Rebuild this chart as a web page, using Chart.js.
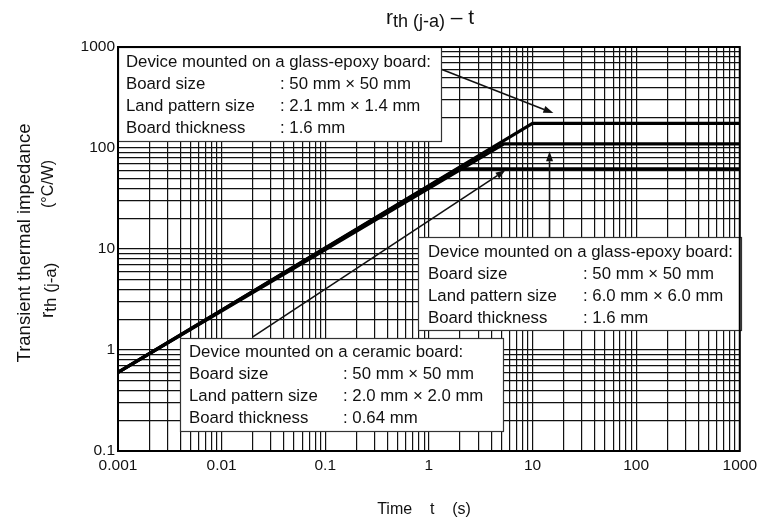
<!DOCTYPE html>
<html>
<head>
<meta charset="utf-8">
<script src="https://cdn.jsdelivr.net/npm/chart.js@4/dist/chart.umd.min.js"></script>
<style>
  html, body { margin: 0; padding: 0; background: #fff; }
  #wrap { width: 762px; height: 520px; position: relative; }
</style>
</head>
<body>
<div id="wrap"><canvas id="chart"></canvas></div>
<script>
// axis ticks
const xTickValues = [0.001, 0.01, 0.1, 1, 10, 100, 1000];
const xTickLabels = ['0.001', '0.01', '0.1', '1', '10', '100', '1000'];
const yTickValues = [0.1, 1, 10, 100, 1000];
const yTickLabels = ['0.1', '1', '10', '100', '1000'];

// curves: time t (s) / rth(j-a) (°C/W)
const glassSmallT = [0.001, 10, 1000];
const glassSmallR = [0.6, 175, 175];
const glassLargeT = [0.001, 5.3, 1000];
const glassLargeR = [0.6, 110, 110];
const ceramicT = [0.001, 1.9, 1000];
const ceramicR = [0.6, 62, 62];

// note boxes
const rowLabels = ['Board size', 'Land pattern size', 'Board thickness'];
const glassSmallNote = ['Device mounted on a glass-epoxy board:', ': 50 mm \u00d7 50 mm', ': 2.1 mm \u00d7 1.4 mm', ': 1.6 mm'];
const glassLargeNote = ['Device mounted on a glass-epoxy board:', ': 50 mm \u00d7 50 mm', ': 6.0 mm \u00d7 6.0 mm', ': 1.6 mm'];
const ceramicNote = ['Device mounted on a ceramic board:', ': 50 mm \u00d7 50 mm', ': 2.0 mm \u00d7 2.0 mm', ': 0.64 mm'];

const FONT = '"Liberation Sans", Arial, sans-serif';
const INK = '#111';

function toXY(ts, rs) {
  return ts.map((t, i) => ({ x: t, y: rs[i] }));
}

// 1..9 x 10^k grid between the first and last tick
function gridValues(decades) {
  const out = [];
  for (let i = 0; i < decades.length - 1; i++) {
    for (let m = 1; m <= 9; m++) out.push(Number((m * decades[i]).toPrecision(6)));
  }
  out.push(decades[decades.length - 1]);
  return out;
}

function labelFor(values, labels, v) {
  const i = values.findIndex(d => Math.abs(d - v) / d < 1e-6);
  return i >= 0 ? labels[i] : '';
}

// draw runs of text with different sizes along one baseline
function drawRuns(ctx, runs, x, y) {
  let cx = x;
  runs.forEach(r => {
    ctx.font = r.size + 'px ' + FONT;
    ctx.fillText(r.text, cx, y + (r.dy || 0));
    cx += ctx.measureText(r.text).width;
  });
}

function runsWidth(ctx, runs) {
  let w = 0;
  runs.forEach(r => { ctx.font = r.size + 'px ' + FONT; w += ctx.measureText(r.text).width; });
  return w;
}

const notes = [
  { lines: glassSmallNote, x: 118, y: 47, w: 323, h: 94, tx: 126, vx: 280, ty: 62, gap: 22 },
  { lines: glassLargeNote, x: 418, y: 237, w: 323, h: 93, tx: 428, vx: 583, ty: 252, gap: 22 },
  { lines: ceramicNote, x: 180, y: 338, w: 323, h: 93, tx: 189, vx: 343, ty: 352, gap: 22 }
];

// arrows in data coordinates (tail -> head)
const arrows = [
  { from: [1.3, 605], to: [15.9, 222] },
  { from: [14.6, 13], to: [14.6, 93] },
  { from: [0.02, 1.35], to: [5.5, 60.5] }
];

const notesPlugin = {
  id: 'notes',
  afterDatasetsDraw(chart) {
    const { ctx, chartArea: a, scales } = chart;
    ctx.save();

    // arrows
    ctx.strokeStyle = INK;
    ctx.fillStyle = INK;
    ctx.lineWidth = 1.6;
    arrows.forEach(ar => {
      const x1 = scales.x.getPixelForValue(ar.from[0]);
      const y1 = scales.y.getPixelForValue(ar.from[1]);
      const x2 = scales.x.getPixelForValue(ar.to[0]);
      const y2 = scales.y.getPixelForValue(ar.to[1]);
      const ang = Math.atan2(y2 - y1, x2 - x1);
      const len = 10, hw = 3.5;
      const bx = x2 - len * Math.cos(ang), by = y2 - len * Math.sin(ang);
      ctx.beginPath();
      ctx.moveTo(x1, y1);
      ctx.lineTo(bx, by);
      ctx.stroke();
      ctx.beginPath();
      ctx.moveTo(x2, y2);
      ctx.lineTo(bx + hw * Math.sin(ang), by - hw * Math.cos(ang));
      ctx.lineTo(bx - hw * Math.sin(ang), by + hw * Math.cos(ang));
      ctx.closePath();
      ctx.fill();
    });

    // boxes
    notes.forEach(n => {
      ctx.fillStyle = '#fff';
      ctx.fillRect(n.x, n.y, n.w, n.h);
      ctx.strokeStyle = '#333';
      ctx.lineWidth = 1.2;
      ctx.strokeRect(n.x + 0.5, n.y + 0.5, n.w, n.h);
      ctx.fillStyle = INK;
      ctx.font = '16.8px ' + FONT;
      ctx.textBaseline = 'middle';
      ctx.textAlign = 'left';
      ctx.fillText(n.lines[0], n.tx, n.ty);
      rowLabels.forEach((lab, i) => {
        const y = n.ty + n.gap * (i + 1);
        ctx.fillText(lab, n.tx, y);
        ctx.fillText(n.lines[i + 1], n.vx, y);
      });
    });

    // plot frame on top
    ctx.strokeStyle = '#000';
    ctx.lineWidth = 2;
    ctx.strokeRect(a.left, a.top, a.right - a.left, a.bottom - a.top);
    ctx.restore();
  },
  afterDraw(chart) {
    const { ctx } = chart;
    ctx.save();
    ctx.fillStyle = INK;
    ctx.textBaseline = 'alphabetic';
    ctx.textAlign = 'left';

    // title
    const titleRuns = [
      { text: 'r', size: 21 },
      { text: 'th (j-a)', size: 18, dy: 3 },
      { text: ' \u2013 t', size: 21 }
    ];
    drawRuns(ctx, titleRuns, 430 - runsWidth(ctx, titleRuns) / 2, 24);

    // x axis title
    ctx.font = '16px ' + FONT;
    ctx.textAlign = 'center';
    ctx.fillText('Time    t    (s)', 424, 514);

    // y axis title (rotated)
    ctx.save();
    ctx.translate(30, 243);
    ctx.rotate(-Math.PI / 2);
    ctx.font = '18.5px ' + FONT;
    ctx.textAlign = 'center';
    ctx.fillText('Transient thermal impedance', 0, 0);
    ctx.restore();

    ctx.save();
    ctx.translate(53, 318);
    ctx.rotate(-Math.PI / 2);
    ctx.textAlign = 'left';
    drawRuns(ctx, [
      { text: 'r', size: 19 },
      { text: 'th (j-a)', size: 17, dy: 3 }
    ], 0, 0);
    ctx.font = '16px ' + FONT;
    ctx.fillText('(\u00b0C/W)', 110, 0);
    ctx.restore();

    ctx.restore();
  }
};

const lineStyle = {
  borderColor: '#000',
  borderWidth: 3.2,
  pointRadius: 0,
  fill: false,
  tension: 0
};

new Chart(document.getElementById('chart'), {
  type: 'line',
  data: {
    datasets: [
      { label: 'glass-epoxy 2.1 x 1.4', data: toXY(glassSmallT, glassSmallR), ...lineStyle },
      { label: 'glass-epoxy 6.0 x 6.0', data: toXY(glassLargeT, glassLargeR), ...lineStyle },
      { label: 'ceramic 2.0 x 2.0', data: toXY(ceramicT, ceramicR), ...lineStyle }
    ]
  },
  options: {
    responsive: true,
    maintainAspectRatio: false,
    animation: false,
    layout: { padding: { top: 47, right: 20, left: 0, bottom: 0 } },
    plugins: {
      legend: { display: false },
      tooltip: { enabled: false }
    },
    scales: {
      x: {
        type: 'logarithmic',
        min: 0.001,
        max: 1000,
        afterBuildTicks: s => { s.ticks = gridValues(xTickValues).map(v => ({ value: v })); },
        afterFit: s => { s.height = 69; },
        grid: { color: '#111', lineWidth: 1.2, drawTicks: false },
        border: { display: false },
        ticks: {
          autoSkip: false,
          maxRotation: 0,
          padding: 5,
          color: INK,
          font: { family: FONT, size: 15.5 },
          callback: v => labelFor(xTickValues, xTickLabels, v)
        }
      },
      y: {
        type: 'logarithmic',
        min: 0.1,
        max: 1000,
        afterBuildTicks: s => { s.ticks = gridValues(yTickValues).map(v => ({ value: v })); },
        afterFit: s => { s.width = 118; },
        grid: { color: '#111', lineWidth: 1.2, drawTicks: false },
        border: { display: false },
        ticks: {
          autoSkip: false,
          padding: 3,
          color: INK,
          font: { family: FONT, size: 15.5 },
          callback: v => labelFor(yTickValues, yTickLabels, v)
        }
      }
    }
  },
  plugins: [notesPlugin]
});
</script>
</body>
</html>
